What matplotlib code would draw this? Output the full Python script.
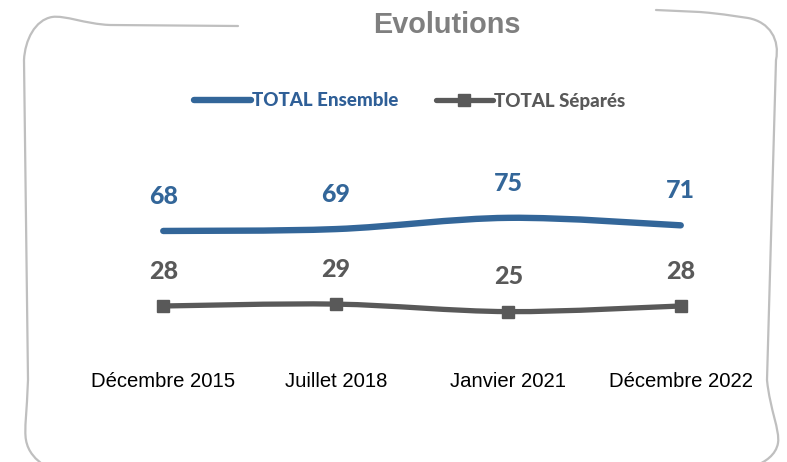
import matplotlib
matplotlib.use('Agg')
from matplotlib import pyplot as plt
from matplotlib.path import Path
from matplotlib.patches import PathPatch
from matplotlib.lines import Line2D
from matplotlib.transforms import Affine2D

categories = ['Décembre 2015', 'Juillet 2018', 'Janvier 2021', 'Décembre 2022']
ensemble = [68, 69, 75, 71]
separes = [28, 29, 25, 28]
series_names = ['TOTAL Ensemble', 'TOTAL Séparés']

BLUE = '#336699'
BLUE_TXT = '#2F5F97'
GREY = '#595959'
W, H = 787, 462


def smooth_path(xs, ys):
    # Excel-like smoothed line: Catmull-Rom as cubic Bezier segments
    pts = list(zip(xs, ys))
    verts = [pts[0]]
    codes = [Path.MOVETO]
    n = len(pts)
    for i in range(n - 1):
        p0 = pts[max(i - 1, 0)]
        p1 = pts[i]
        p2 = pts[i + 1]
        p3 = pts[min(i + 2, n - 1)]
        c1 = (p1[0] + (p2[0] - p0[0]) / 6, p1[1] + (p2[1] - p0[1]) / 6)
        c2 = (p2[0] - (p3[0] - p1[0]) / 6, p2[1] - (p3[1] - p1[1]) / 6)
        verts += [c1, c2, p2]
        codes += [Path.CURVE4] * 3
    return Path(verts, codes)


fig = plt.figure(figsize=(W / 100, H / 100), dpi=100)
ax = fig.add_axes([77 / W, 0.224, 690 / W, 0.406])

x = list(range(len(categories)))
ax.add_patch(PathPatch(smooth_path(x, ensemble), fill=False, edgecolor=BLUE,
                       lw=4.6, capstyle='round', joinstyle='round'))
ax.add_patch(PathPatch(smooth_path(x, separes), fill=False, edgecolor=GREY,
                       lw=3.8, capstyle='round', joinstyle='round'))
ax.plot(x, separes, ls='none', marker='s', ms=9, color=GREY)

for xi, v in zip(x, ensemble):
    ax.annotate(str(v), (xi, v), xytext=(0, 25), textcoords='offset points',
                ha='center', va='center', fontsize=18, fontweight=900,
                family='Lato', color=BLUE)
for xi, v in zip(x, separes):
    ax.annotate(str(v), (xi, v), xytext=(0, 25), textcoords='offset points',
                ha='center', va='center', fontsize=18, fontweight=900,
                family='Lato', color=GREY)

ax.set_xlim(-0.5, len(categories) - 0.5)
ax.set_ylim(0, 100)
ax.set_xticks(x)
ax.set_xticklabels(categories, family='Liberation Sans', fontsize=14.6, color='black')
ax.tick_params(axis='x', length=0, pad=10)
ax.set_yticks([])
for s in ax.spines.values():
    s.set_visible(False)
ax.patch.set_alpha(0)

handles = [Line2D([], [], color=BLUE, lw=4.6, solid_capstyle='round'),
           Line2D([], [], color=GREY, lw=3.8, solid_capstyle='round',
                  marker='s', ms=9)]
leg = fig.legend(handles, series_names, ncol=2, loc='center',
                 bbox_to_anchor=(410 / W, 1 - 101 / H), frameon=False,
                 handlelength=3.0, handletextpad=0.1, columnspacing=2.0,
                 prop={'family': 'Lato', 'weight': 900, 'size': 13.5})
leg.get_texts()[0].set_color(BLUE_TXT)
leg.get_texts()[1].set_color(GREY)

fig.text(447 / W, 1 - 25 / H, 'Evolutions', ha='center', va='center',
         family='Liberation Sans', fontweight='bold', fontsize=20.8, color='#7F7F7F')

# sketchy frame around the chart, in pixel coords from top-left
px = Affine2D().scale(1 / W, -1 / H).translate(0, 1) + fig.transFigure
L, C = Path.LINETO, Path.CURVE4
left_frame = Path([(238, 26), (110, 25), (85, 24), (65, 15), (52, 17),
                   (35, 20), (25, 40), (24, 60), (28, 380),
                   (27, 410), (24, 430), (26, 440),
                   (28, 452), (36, 460), (45, 466)],
                  [Path.MOVETO, L, C, C, C, C, C, C, L, C, C, C, C, C, C])
right_frame = Path([(656, 10), (700, 12), (725, 14), (740, 17), (748, 18),
                    (770, 22), (780, 40), (776, 60), (767, 380),
                    (770, 410), (780, 430), (778, 443),
                    (776, 455), (765, 462), (755, 466)],
                   [Path.MOVETO, L, C, C, C, C, C, C, L, C, C, C, C, C, C])
for p in (left_frame, right_frame):
    fig.add_artist(PathPatch(p, fill=False, edgecolor='#BFBFBF', lw=1.6,
                             transform=px, capstyle='round'))

fig.savefig('out.png', dpi=100)
